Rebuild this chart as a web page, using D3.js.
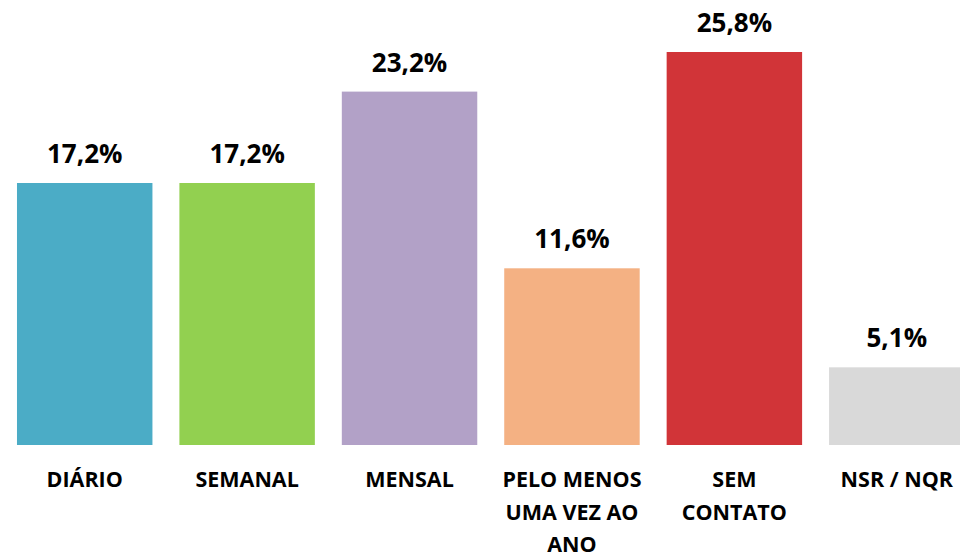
<!DOCTYPE html>
<html>
<head>
<meta charset="utf-8">
<script src="https://cdn.jsdelivr.net/npm/d3@7"></script>
<style>
  body { margin: 0; background: #fff; }
  svg { display: block; }
</style>
</head>
<body>
<div id="chart"></div>
<script>
// chart data
const categories = ["DIÁRIO", "SEMANAL", "MENSAL", "PELO MENOS UMA VEZ AO ANO", "SEM CONTATO", "NSR / NQR"];
const categoryLines = [["DIÁRIO"], ["SEMANAL"], ["MENSAL"], ["PELO MENOS", "UMA VEZ AO", "ANO"], ["SEM", "CONTATO"], ["NSR / NQR"]];
const values = [17.2, 17.2, 23.2, 11.6, 25.8, 5.1];
const colors = ["#4BACC6", "#92D050", "#B2A1C7", "#F4B183", "#D13438", "#D9D9D9"];

const width = 960, height = 558;
const fontFam = "'Open Sans', 'Liberation Sans', sans-serif";

const svg = d3.select("#chart")
    .append("svg")
    .attr("width", width)
    .attr("height", height);

const x = d3.scaleBand()
    .domain(categories)
    .range([3.5, 978])
    .paddingInner(0.166)
    .paddingOuter(0.083);

const y = d3.scaleLinear()
    .domain([0, 25.8])
    .range([445, 52]);

// bars
svg.selectAll("rect.bar")
    .data(values)
    .enter()
    .append("rect")
    .attr("class", "bar")
    .attr("x", (d, i) => x(categories[i]))
    .attr("y", d => y(d))
    .attr("width", x.bandwidth())
    .attr("height", d => y(0) - y(d))
    .attr("fill", (d, i) => colors[i]);

// value labels
svg.selectAll("text.value")
    .data(values)
    .enter()
    .append("text")
    .attr("class", "value")
    .attr("x", (d, i) => x(categories[i]) + x.bandwidth() / 2)
    .attr("y", d => y(d) - 20)
    .attr("text-anchor", "middle")
    .attr("font-family", fontFam)
    .attr("font-size", "26px")
    .attr("font-weight", "bold")
    .attr("fill", "#000")
    .text(d => d.toFixed(1).replace(".", ",") + "%");

// category labels
const lab = svg.selectAll("text.cat")
    .data(categories)
    .enter()
    .append("text")
    .attr("class", "cat")
    .attr("x", d => x(d) + x.bandwidth() / 2)
    .attr("y", 487)
    .attr("text-anchor", "middle")
    .attr("font-family", fontFam)
    .attr("font-size", "21.5px")
    .attr("font-weight", "bold")
    .attr("fill", "#000");

lab.each(function(d, i) {
    const t = d3.select(this);
    categoryLines[i].forEach((line, j) => {
        t.append("tspan")
            .attr("x", x(d) + x.bandwidth() / 2)
            .attr("dy", j === 0 ? 0 : 32.5)
            .text(line);
    });
});
</script>
</body>
</html>
